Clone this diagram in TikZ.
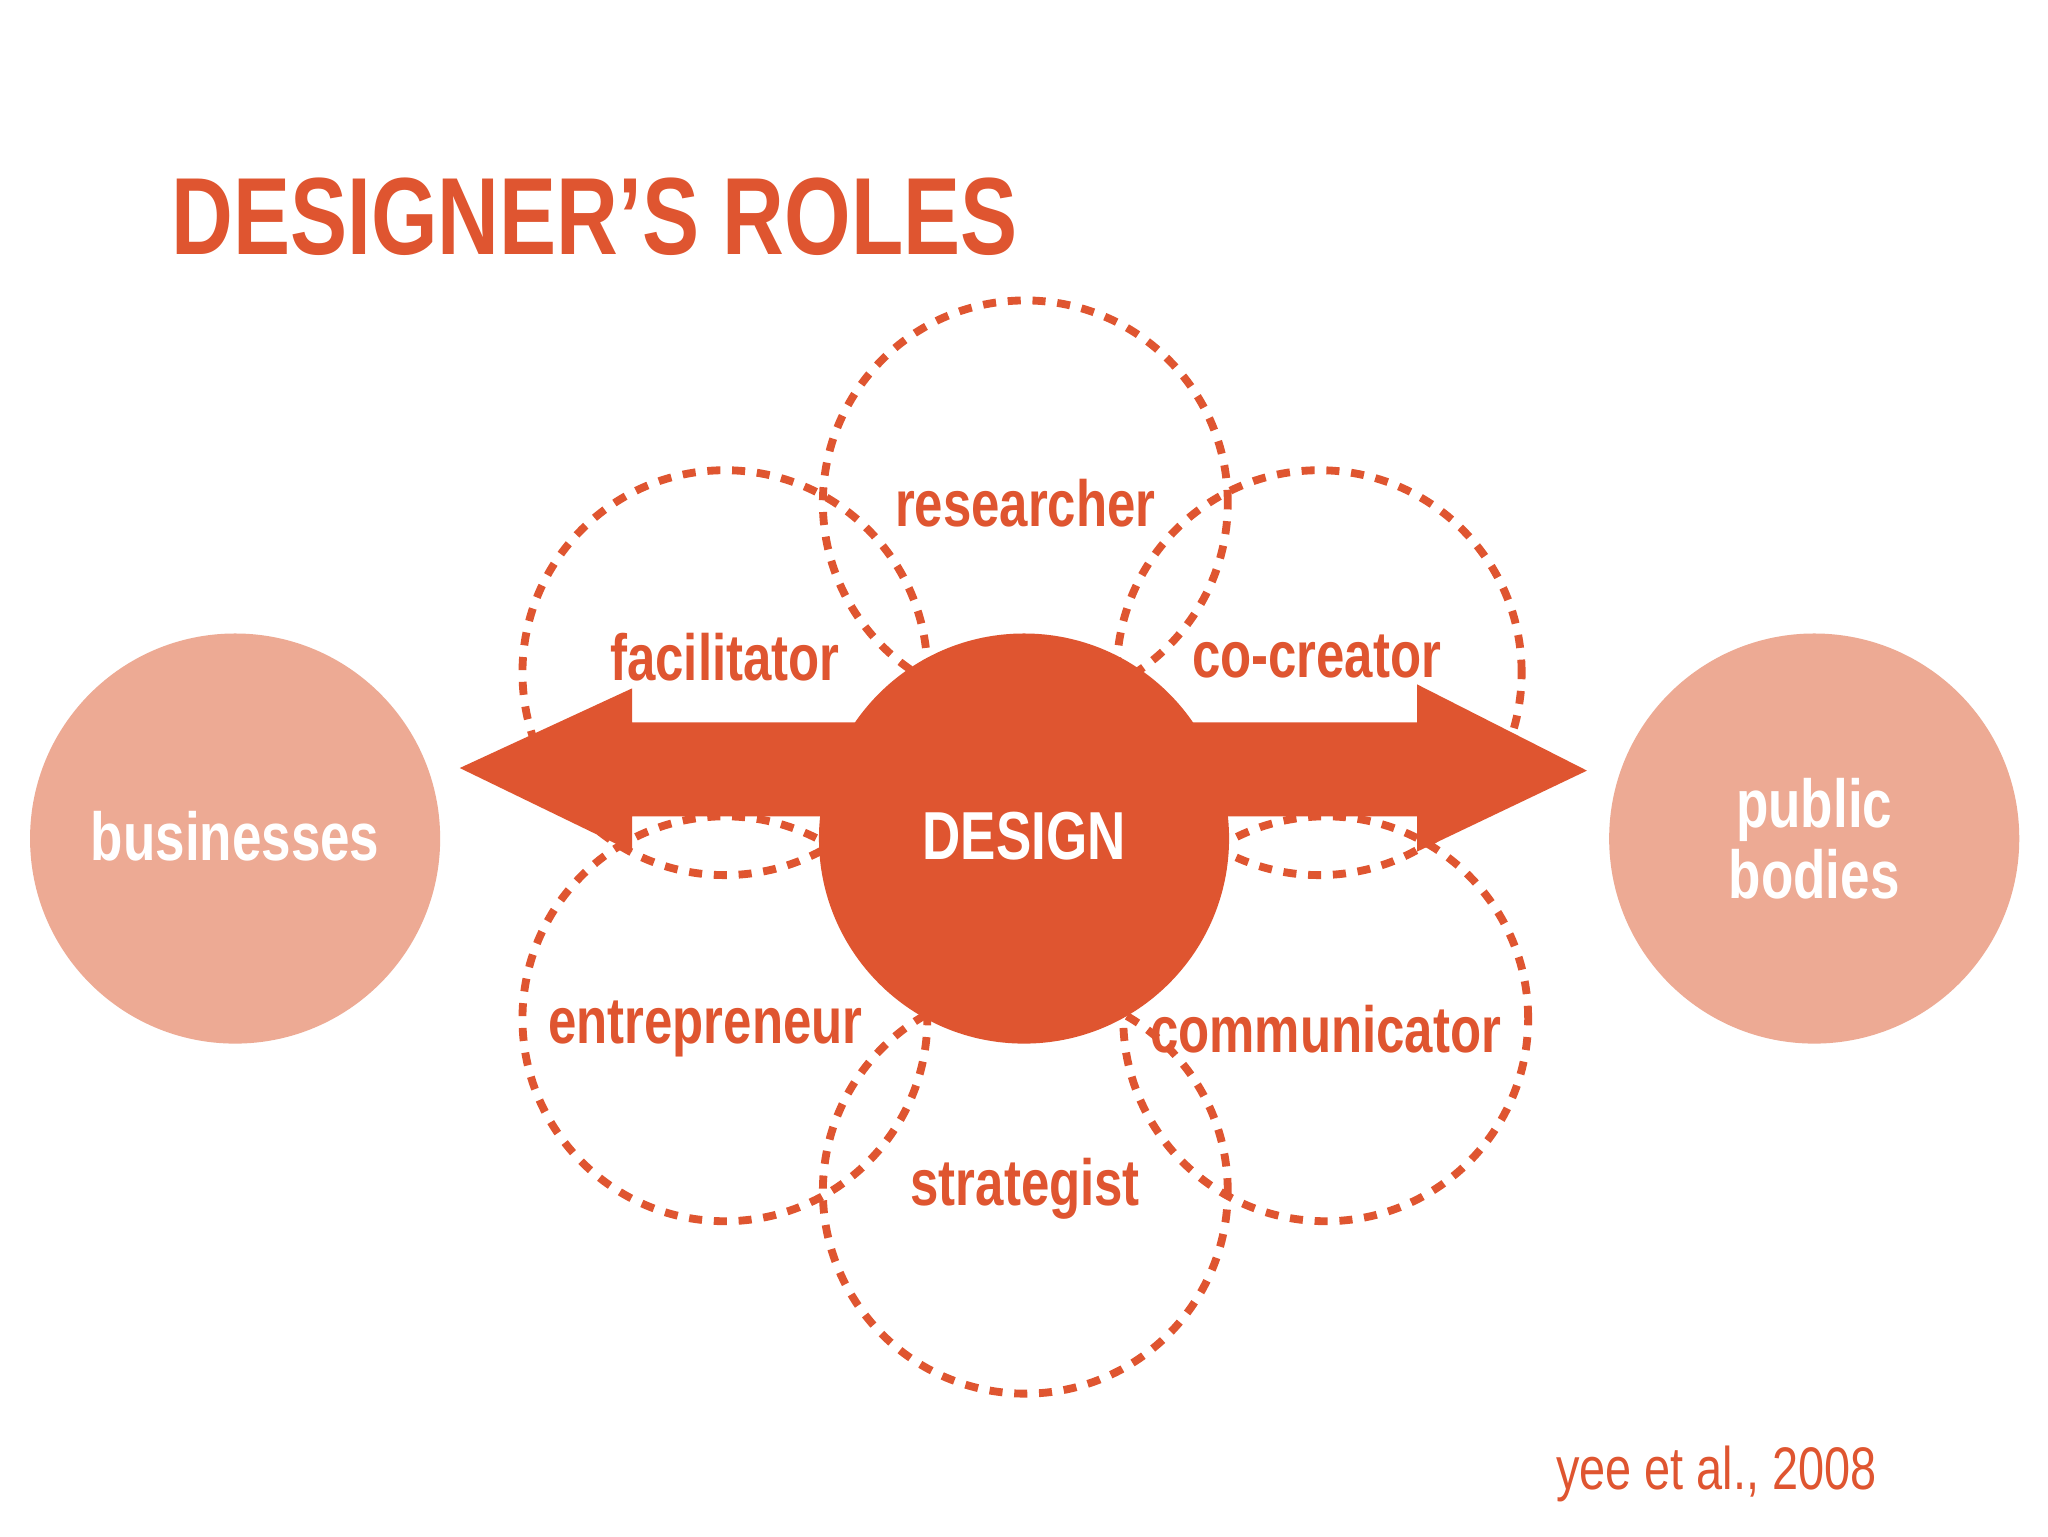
\documentclass[tikz,border=0pt]{standalone}
\usepackage{fontspec}
\setmainfont{Liberation Sans}
\newfontfamily\cond[FakeStretch=0.78]{Liberation Sans}
\newfontfamily\condb[FakeStretch=0.78,FakeBold=0]{Liberation Sans}
\definecolor{ored}{HTML}{DF5530}
\definecolor{lpink}{HTML}{EDAA94}
\begin{document}
\begin{tikzpicture}[x=1pt,y=-1pt,
  dcirc/.style={draw=ored,line width=6pt,dash pattern=on 10pt off 9pt,circle,minimum size=310pt,inner sep=0pt},
  rolelbl/.style={text=ored,font=\cond\bfseries\fontsize{50}{50}\selectfont},
  bigc/.style={circle,minimum size=314pt,inner sep=0pt},
  wlbl/.style={text=white,font=\cond\bfseries\fontsize{52}{54}\selectfont,align=center}]
\useasboundingbox[fill=white] (0,0) rectangle (1568,1176);
\node[anchor=base west,text=ored,font=\cond\bfseries\fontsize{84}{84}\selectfont,inner sep=0pt] (title) at (131,195) {DESIGNER’S ROLES};
% dashed circles
\node[dcirc] (c1) at (785,385) {};
\node[dcirc] (c2) at (555,515) {};
\node[dcirc] (c3) at (1010,515) {};
\node[dcirc] (c4) at (555,780) {};
\node[dcirc] (c5) at (1015,780) {};
\node[dcirc] (c6) at (785,912) {};
% side circles
\node[bigc,fill=lpink] (biz) at (180,642) {};
\node[bigc,fill=lpink] (pub) at (1389,642) {};
% arrow
\fill[ored] (352,588) -- (484,527) -- (484,553) -- (1085,553) -- (1085,524) -- (1215,590) -- (1085,652) -- (1085,625) -- (484,625) -- (484,652) -- cycle;
\node[bigc,fill=ored] (design) at (784,642) {};
% labels
\node[wlbl] at (784,640) {DESIGN};
\node[wlbl] at (180,640) {businesses};
\node[wlbl] at (1389,642) {public\\bodies};
\node[rolelbl] at (785,385) {researcher};
\node[rolelbl] at (555,503) {facilitator};
\node[rolelbl] at (1008,503) {co-creator};
\node[rolelbl] at (540,788) {entrepreneur};
\node[rolelbl] at (1015,788) {communicator};
\node[rolelbl] at (785,910) {strategist};
\node[anchor=base east,text=ored,font=\cond\fontsize{46}{46}\selectfont,inner sep=0pt] (cite) at (1437,1140) {yee et al., 2008};
\end{tikzpicture}
\end{document}
